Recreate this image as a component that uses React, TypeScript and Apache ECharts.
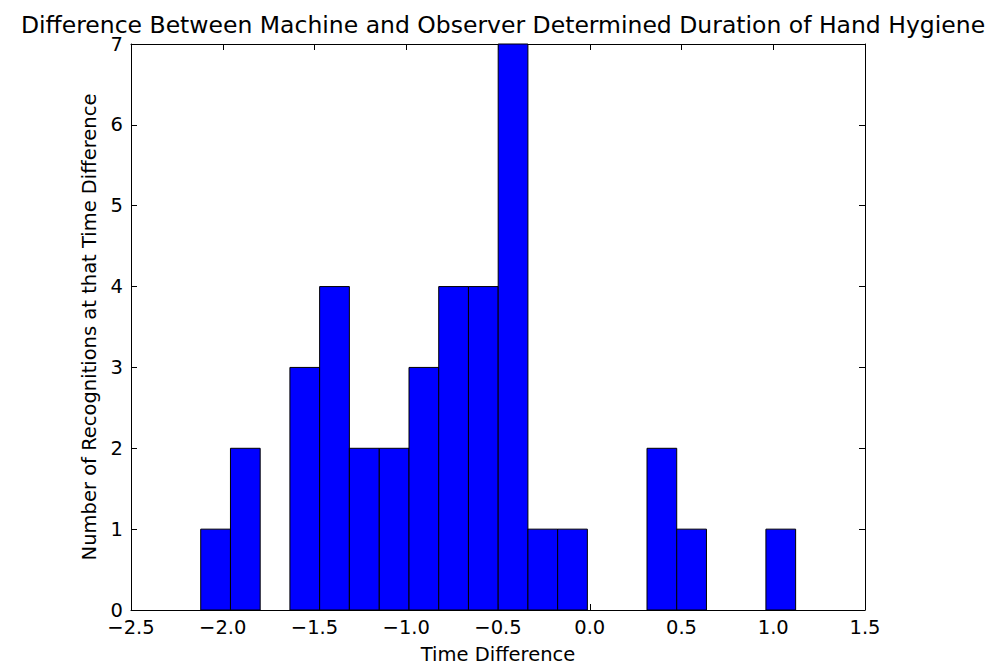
import React, { useEffect, useRef } from "react";
import * as echarts from "echarts";

const binEdges = [
  -2.12, -1.958, -1.796, -1.634, -1.472, -1.31, -1.147, -0.985, -0.823, -0.661,
  -0.499, -0.337, -0.175, -0.013, 0.149, 0.312, 0.474, 0.636, 0.798, 0.96, 1.122,
];
const counts = [1, 2, 0, 3, 4, 2, 2, 3, 4, 4, 7, 1, 1, 0, 0, 2, 1, 0, 0, 1];
const xTicks = [-2.5, -2.0, -1.5, -1.0, -0.5, 0.0, 0.5, 1.0, 1.5];
const yTicks = [0, 1, 2, 3, 4, 5, 6, 7];

const FONT = "'DejaVu Sans', sans-serif";
const LABEL_SIZE = 19.5;

export default function App() {
  const ref = useRef<HTMLDivElement>(null);
  useEffect(() => {
    if (!ref.current) return;
    const chart = echarts.init(ref.current, null, { renderer: "svg" });
    const data = counts.map((c, i) => [binEdges[i], binEdges[i + 1], c]);
    const fmtX = (v: number) => {
      const s = Math.abs(v).toFixed(1);
      return v < 0 ? "\u2212" + s : s;
    };
    const tickLen = 6;
    const axisLine = { show: true, onZero: false, lineStyle: { color: "#000", width: 1 } };
    const tick = { show: true, inside: true, length: tickLen, lineStyle: { color: "#000" } };
    chart.setOption({
      animation: false,
      backgroundColor: "#fff",
      title: {
        text: "Difference Between Machine and Observer Determined Duration of Hand Hygiene",
        left: 498,
        textAlign: "center",
        top: 8,
        textStyle: { fontFamily: FONT, fontSize: 23.5, fontWeight: "normal", color: "#000" },
      },
      grid: { left: 131, right: 129, top: 44, bottom: 56, containLabel: false },
      xAxis: [
        {
          type: "value",
          min: xTicks[0],
          max: xTicks[xTicks.length - 1],
          interval: 0.5,
          position: "bottom",
          name: "Time Difference",
          nameLocation: "middle",
          nameGap: 34,
          nameTextStyle: { fontFamily: FONT, fontSize: LABEL_SIZE, color: "#000" },
          axisLine,
          axisTick: tick,
          axisLabel: { fontFamily: FONT, fontSize: LABEL_SIZE, color: "#000", margin: 7, formatter: fmtX },
          splitLine: { show: false },
        },
        {
          type: "value",
          min: xTicks[0],
          max: xTicks[xTicks.length - 1],
          interval: 0.5,
          position: "top",
          axisLine,
          axisTick: tick,
          axisLabel: { show: false },
          splitLine: { show: false },
        },
      ],
      yAxis: [
        {
          type: "value",
          min: yTicks[0],
          max: yTicks[yTicks.length - 1],
          interval: 1,
          position: "left",
          name: "Number of Recognitions at that Time Difference",
          nameLocation: "middle",
          nameGap: 29,
          nameRotate: 90,
          nameTextStyle: { fontFamily: FONT, fontSize: LABEL_SIZE, color: "#000" },
          axisLine,
          axisTick: tick,
          axisLabel: { fontFamily: FONT, fontSize: LABEL_SIZE, color: "#000", margin: 8 },
          splitLine: { show: false },
        },
        {
          type: "value",
          min: yTicks[0],
          max: yTicks[yTicks.length - 1],
          interval: 1,
          position: "right",
          axisLine,
          axisTick: tick,
          axisLabel: { show: false },
          splitLine: { show: false },
        },
      ],
      series: [
        {
          type: "custom",
          xAxisIndex: 0,
          yAxisIndex: 0,
          data,
          encode: { x: [0, 1], y: 2 },
          renderItem: (params: any, api: any) => {
            const x0 = api.value(0);
            const x1 = api.value(1);
            const c = api.value(2);
            if (!c) return null;
            const p0 = api.coord([x0, c]);
            const p1 = api.coord([x1, 0]);
            return {
              type: "rect",
              shape: { x: p0[0], y: p0[1], width: p1[0] - p0[0], height: p1[1] - p0[1] },
              style: { fill: "#0000ff", stroke: "#000", lineWidth: 1 },
            };
          },
        },
      ],
    });
    return () => chart.dispose();
  }, []);
  return (
    <div
      ref={ref}
      style={{ position: "fixed", left: 0, top: 0, width: 994, height: 669, background: "#fff" }}
    />
  );
}
